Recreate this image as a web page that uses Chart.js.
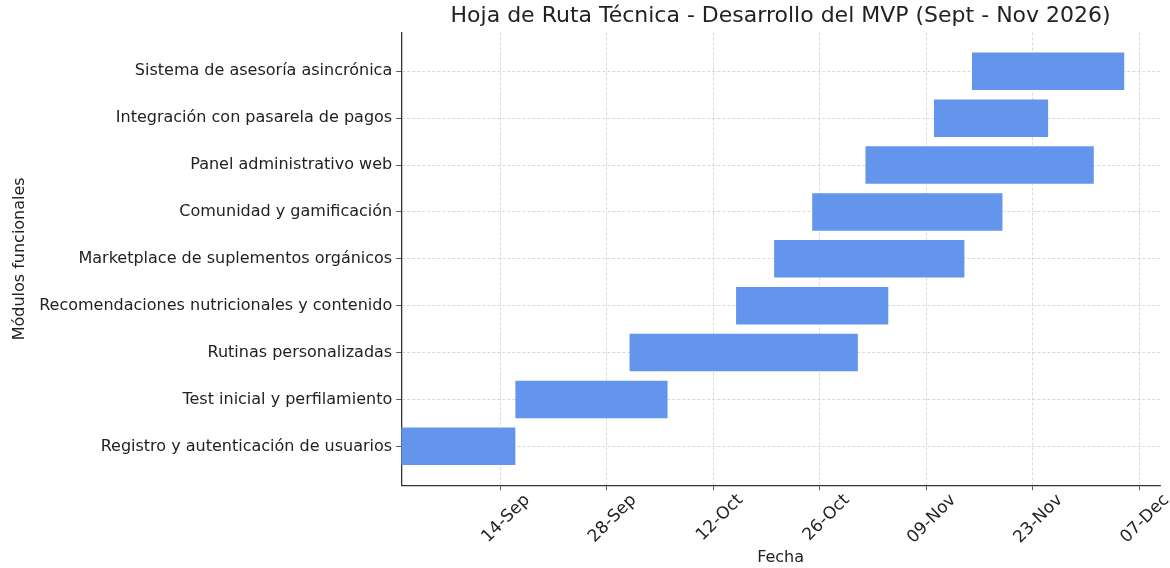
<!DOCTYPE html>
<html>
<head>
<meta charset="utf-8">
<script src="https://cdn.jsdelivr.net/npm/chart.js"></script>
<style>
  body { margin: 0; background: #fff; }
  #wrap { width: 1170px; height: 568px; }
</style>
</head>
<body>
<div id="wrap"><canvas id="roadmap" width="1170" height="568"></canvas></div>
<script>
// modules, bottom to top
var modulos = [
  'Registro y autenticación de usuarios',
  'Test inicial y perfilamiento',
  'Rutinas personalizadas',
  'Recomendaciones nutricionales y contenido',
  'Marketplace de suplementos orgánicos',
  'Comunidad y gamificación',
  'Panel administrativo web',
  'Integración con pasarela de pagos',
  'Sistema de asesoría asincrónica'
];
var inicio = ['2026-09-01', '2026-09-16', '2026-10-01', '2026-10-15', '2026-10-20',
              '2026-10-25', '2026-11-01', '2026-11-10', '2026-11-15'];
var fin    = ['2026-09-16', '2026-10-06', '2026-10-31', '2026-11-04', '2026-11-14',
              '2026-11-19', '2026-12-01', '2026-11-25', '2026-12-05'];
var ticksFecha = ['2026-09-14', '2026-09-28', '2026-10-12', '2026-10-26',
                  '2026-11-09', '2026-11-23', '2026-12-07'];
var rangoX = ['2026-09-01', '2026-12-09'];

var base = Date.UTC(2026, 8, 1);
var meses = ['Jan','Feb','Mar','Apr','May','Jun','Jul','Aug','Sep','Oct','Nov','Dec'];
function dia(s) {
  var p = s.split('-');
  return (Date.UTC(+p[0], +p[1] - 1, +p[2]) - base) / 86400000;
}
function etiqueta(d) {
  var f = new Date(base + d * 86400000);
  var dd = f.getUTCDate();
  return (dd < 10 ? '0' : '') + dd + '-' + meses[f.getUTCMonth()];
}

var barras = modulos.map(function (m, i) {
  return { x: [dia(inicio[i]), dia(fin[i])], y: i };
});

var fuente = 'DejaVu Sans';
var gris = '#222';

new Chart(document.getElementById('roadmap'), {
  type: 'bar',
  data: {
    datasets: [{
      data: barras,
      backgroundColor: '#6495ed',
      borderWidth: 0,
      barPercentage: 0.8,
      categoryPercentage: 1
    }]
  },
  options: {
    indexAxis: 'y',
    responsive: false,
    animation: false,
    layout: { padding: { top: 3, right: 10, bottom: 1, left: 10 } },
    plugins: {
      legend: { display: false },
      tooltip: { enabled: false },
      title: {
        display: true,
        fullSize: false,
        text: 'Hoja de Ruta Técnica - Desarrollo del MVP (Sept - Nov 2026)',
        color: gris,
        font: { family: fuente, size: 22, weight: 'normal' },
        padding: { top: 0, bottom: 3 }
      }
    },
    scales: {
      x: {
        type: 'linear',
        min: dia(rangoX[0]),
        max: dia(rangoX[1]) + 0.7,
        afterBuildTicks: function (ax) {
          ax.ticks = ticksFecha.map(function (t) { return { value: dia(t) }; });
        },
        ticks: {
          callback: function (v) { return etiqueta(v); },
          color: gris,
          font: { family: fuente, size: 17 },
          minRotation: 45,
          maxRotation: 45,
          labelOffset: 27,
          padding: 0
        },
        grid: {
          color: '#cfcfcf',
          lineWidth: 0.8,
          tickColor: '#333',
          tickLength: 5,
          tickBorderDash: []
        },
        border: { display: true, color: '#333', width: 1.3, dash: [3, 2] },
        title: {
          display: true,
          text: 'Fecha',
          color: gris,
          font: { family: fuente, size: 16 },
          padding: { top: 0, bottom: 0 }
        }
      },
      y: {
        type: 'linear',
        offset: false,
        min: -0.83,
        max: 8.83,
        afterBuildTicks: function (ax) {
          ax.ticks = modulos.map(function (m, i) { return { value: i }; });
        },
        ticks: {
          callback: function (v) { return modulos[v]; },
          color: gris,
          font: { family: fuente, size: 16 },
          padding: 4
        },
        grid: {
          offset: false,
          color: '#cfcfcf',
          lineWidth: 0.8,
          tickColor: '#333',
          tickLength: 5,
          tickBorderDash: []
        },
        border: { display: true, color: '#333', width: 1.3, dash: [3, 2] },
        title: {
          display: true,
          text: 'Módulos funcionales',
          color: gris,
          font: { family: fuente, size: 16 },
          padding: { top: 0, bottom: 6 }
        }
      }
    }
  }
});
</script>
</body>
</html>
